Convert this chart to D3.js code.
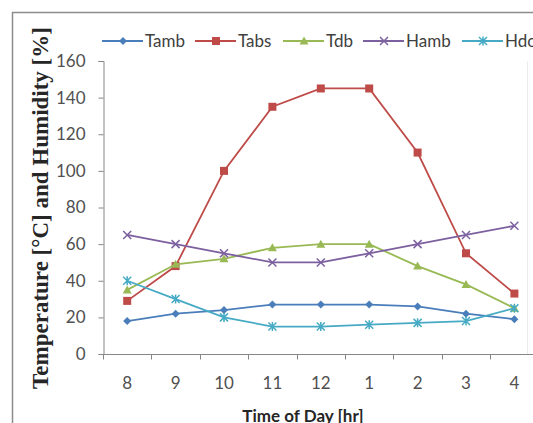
<!DOCTYPE html>
<html>
<head>
<meta charset="utf-8">
<script src="https://d3js.org/d3.v7.min.js"></script>
<style>
  body { margin: 0; background: #fff; }
  svg { display: block; }
  .tick text { font-family: Lato, 'Open Sans', sans-serif; font-size: 17px; fill: #505050; }
  .legend text { font-family: Lato, 'Open Sans', sans-serif; font-size: 17px; fill: #404040; }
</style>
</head>
<body>
<div id="chart"></div>
<script>
// hours of the day shown on the x axis
const hours = ["8", "9", "10", "11", "12", "1", "2", "3", "4"];
const yTicks = [0, 20, 40, 60, 80, 100, 120, 140, 160];

// series values
const tamb = [18, 22, 24, 27, 27, 27, 26, 22, 19];
const tabs = [29, 48, 100, 135, 145, 145, 110, 55, 33];
const tdb  = [35, 49, 52, 58, 60, 60, 48, 38, 25];
const hamb = [65, 60, 55, 50, 50, 55, 60, 65, 70];
const hdo  = [40, 30, 20, 15, 15, 16, 17, 18, 25];

const series = [
  {name: "Tamb", values: tamb, color: "#4A7EBB", marker: "diamond"},
  {name: "Tabs", values: tabs, color: "#BE4B48", marker: "square"},
  {name: "Tdb",  values: tdb,  color: "#98B954", marker: "triangle"},
  {name: "Hamb", values: hamb, color: "#7D60A0", marker: "cross"},
  {name: "Hdo",  values: hdo,  color: "#46AAC5", marker: "star"}
];

const width = 533, height = 423;
const svg = d3.select("#chart").append("svg")
  .attr("width", width)
  .attr("height", height);

// outer chart frame (cropped on right and bottom)
svg.append("path")
  .attr("d", "M12.5,423 V12.5 H533")
  .attr("fill", "none")
  .attr("stroke", "#8c8c8c")
  .attr("stroke-width", 1.5);

const x = d3.scalePoint().domain(hours).range([103, 538.6]).padding(0.5);
const y = d3.scaleLinear().domain([0, 160]).range([354, 61]);

// faint plot area edge on the right
svg.append("line")
  .attr("x1", 527.5).attr("x2", 527.5)
  .attr("y1", y(160)).attr("y2", y(0))
  .attr("stroke", "#ececec");

// y axis
const yAxis = svg.append("g")
  .attr("transform", "translate(103.5,0)")
  .call(d3.axisLeft(y).tickValues(yTicks).tickSize(5).tickPadding(13));
yAxis.selectAll("line, path").attr("stroke", "#868686");

// x axis with ticks between categories
const step = x.step();
const xAxis = svg.append("g").attr("transform", `translate(0,${y(0) + 0.5})`);
xAxis.append("line")
  .attr("x1", 103).attr("x2", 533)
  .attr("stroke", "#868686");
xAxis.selectAll(".sep")
  .data(hours)
  .enter().append("line")
  .attr("x1", d => Math.round(x(d) - step / 2) + 0.5)
  .attr("x2", d => Math.round(x(d) - step / 2) + 0.5)
  .attr("y1", 0).attr("y2", 5)
  .attr("stroke", "#868686");
xAxis.selectAll(".tick")
  .data(hours)
  .enter().append("g")
  .attr("class", "tick")
  .append("text")
  .attr("x", d => x(d))
  .attr("y", 34)
  .attr("text-anchor", "middle")
  .text(d => d);

// axis titles
svg.append("text")
  .attr("transform", "translate(48,208) rotate(-90)")
  .attr("text-anchor", "middle")
  .style("font-family", "'Liberation Serif', 'Times New Roman', serif")
  .style("font-weight", "bold")
  .style("font-size", "23px")
  .style("fill", "#262626")
  .text("Temperature [°C] and Humidity [%]");

svg.append("text")
  .attr("x", 303)
  .attr("y", 422)
  .attr("text-anchor", "middle")
  .style("font-family", "Lato, 'Open Sans', sans-serif")
  .style("font-weight", "bold")
  .style("font-size", "17px")
  .style("fill", "#262626")
  .text("Time of Day [hr]");

function drawMarker(g, type, color) {
  if (type === "diamond") {
    g.append("path").attr("d", "M0,-4 L4,0 L0,4 L-4,0Z").attr("fill", color);
  } else if (type === "square") {
    g.append("rect").attr("x", -4).attr("y", -4).attr("width", 8).attr("height", 8).attr("fill", color);
  } else if (type === "triangle") {
    g.append("path").attr("d", "M0,-4.5 L4.5,3.5 L-4.5,3.5Z").attr("fill", color);
  } else if (type === "cross") {
    g.append("path").attr("d", "M-4,-4 L4,4 M-4,4 L4,-4").attr("stroke", color).attr("stroke-width", 1.5);
  } else {
    g.append("path").attr("d", "M-4,-4 L4,4 M-4,4 L4,-4 M0,-4.5 V4.5").attr("stroke", color).attr("stroke-width", 1.5);
  }
}

const line = d3.line().x((d, i) => x(hours[i])).y(d => y(d));

series.forEach(s => {
  const g = svg.append("g");
  g.append("path")
    .datum(s.values)
    .attr("d", line)
    .attr("fill", "none")
    .attr("stroke", s.color)
    .attr("stroke-width", 1.8);
  s.values.forEach((v, i) => {
    const m = g.append("g").attr("transform", `translate(${x(hours[i])},${y(v)})`);
    drawMarker(m, s.marker, s.color);
  });
});

// legend
const legendX = [102, 195, 283, 363, 462];
const legend = svg.append("g").attr("class", "legend");
series.forEach((s, i) => {
  const g = legend.append("g").attr("transform", `translate(${legendX[i]},41)`);
  g.append("line").attr("x1", 0).attr("x2", 41).attr("stroke", s.color).attr("stroke-width", 1.8);
  const m = g.append("g").attr("transform", "translate(21,0)");
  drawMarker(m, s.marker, s.color);
  g.append("text").attr("x", 43).attr("y", 6).text(s.name);
});
</script>
</body>
</html>
